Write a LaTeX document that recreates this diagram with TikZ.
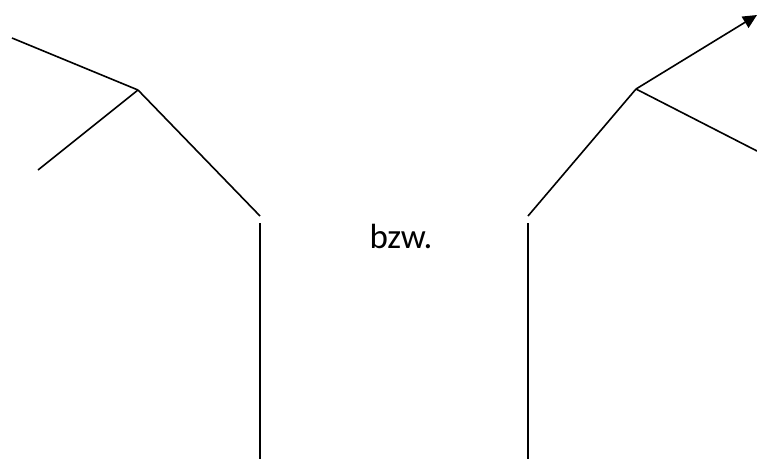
\documentclass[tikz,border=0pt]{standalone}
\usepackage{fontspec}
\setmainfont{Carlito}
\usetikzlibrary{arrows.meta, positioning}

\begin{document}
\begin{tikzpicture}[
  x=1pt, y=-1pt,
  stroke/.style={line width=1.6pt, color=black},
  arrow/.style={stroke, -{Triangle[length=14pt, width=13pt]}},
  label/.style={font=\fontsize{35}{42}\selectfont, inner sep=0pt}
]
\useasboundingbox (0,0) rectangle (757,459);

%% ─── Left figure ─────────────────────────────────────────────────────────────
\coordinate (ljoint) at (138,90);
\coordinate (lupper) at (12,38);
\coordinate (llower) at (38,170);
\coordinate (lelbow) at (260,216);
\coordinate (lstem)  at (260,223);
\coordinate (lfoot)  at (260,459);

\draw[stroke] (lupper) -- (ljoint);
\draw[stroke] (ljoint) -- (llower);
\draw[stroke] (ljoint) -- (lelbow);
\draw[stroke] (lstem)  -- (lfoot);

%% ─── Middle text ─────────────────────────────────────────────────────────────
\node[label] (bzw) at (401,236) {bzw.};

%% ─── Right figure ────────────────────────────────────────────────────────────
\coordinate (rjoint) at (636,89);
\coordinate (rtip)   at (757,15);
\coordinate (rlower) at (757,151);
\coordinate (relbow) at (528,216);
\coordinate (rstem)  at (528,223);
\coordinate (rfoot)  at (528,459);

\draw[stroke] (relbow) -- (rjoint);
\draw[arrow]  (rjoint) -- (rtip);
\draw[stroke] (rjoint) -- (rlower);
\draw[stroke] (rstem)  -- (rfoot);

\end{tikzpicture}
\end{document}
